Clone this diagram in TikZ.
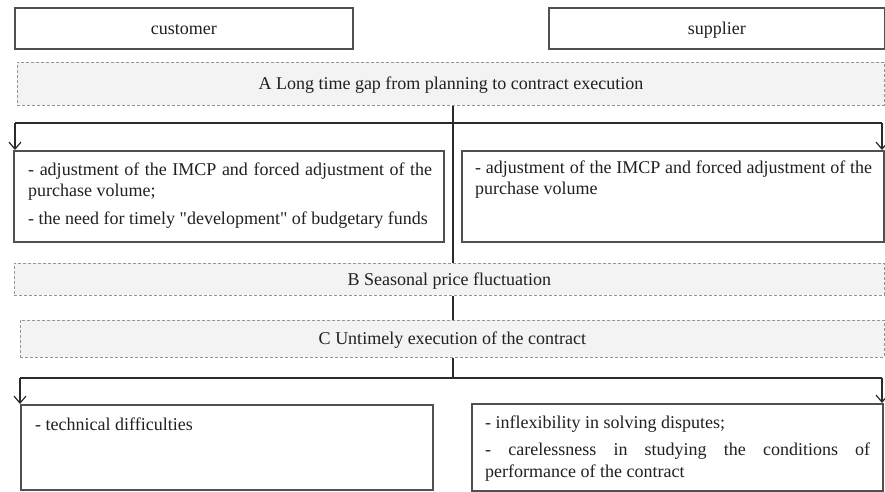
\documentclass[tikz,border=0pt]{standalone}
\usepackage{fontspec}
\setmainfont{Liberation Serif}
\usetikzlibrary{arrows.meta,calc}
\definecolor{boxgray}{HTML}{505050}
\definecolor{dashgray}{HTML}{959595}
\definecolor{bgray}{HTML}{F3F3F3}
\definecolor{txtcol}{HTML}{202020}
\definecolor{linecol}{HTML}{2A2A2A}
\begin{document}
\begin{tikzpicture}[x=1pt,y=-1pt,
  basefont/.style={font=\fontsize{18}{21.5}\selectfont, text=txtcol},
  solidbox/.style={basefont, draw=boxgray, line width=1.5pt, fill=white, inner sep=0pt,
    anchor=north west, text height=12pt, text depth=0pt},
  dashbox/.style={basefont, draw=dashgray, dash pattern=on 3pt off 2pt, line width=0.9pt,
    fill=bgray, inner sep=0pt, anchor=north west, text height=12pt, text depth=0pt},
  itemtext/.style={basefont, anchor=north west, inner sep=0pt, align=justify,
    execute at begin node={\setlength{\parskip}{6pt}\setlength{\parindent}{0pt}\hyphenpenalty=10000\tolerance=10000}},
  conn/.style={draw=linecol, line width=1.2pt},
  arr/.style={conn, -{Straight Barb[length=7pt,width=12pt,line width=1.2pt]}}
]
\useasboundingbox (0,0) rectangle (885,491);

% header boxes
\node[solidbox, minimum width=338pt, minimum height=41pt] (cust) at (14,7) {customer};
\node[solidbox, minimum width=336pt, minimum height=41pt] (supp) at (548,7) {supplier};

% A
\node[dashbox, minimum width=867pt, minimum height=43pt] (A) at (17,62)
  {A Long time gap from planning to contract execution};

% upper boxes
\node[solidbox, minimum width=430pt, minimum height=91pt] (L1) at (13,150) {};
\node[solidbox, minimum width=422pt, minimum height=91pt] (R1) at (461,150) {};
\node[itemtext, text width=404pt] (L1t) at ($(L1.north west)+(15,10)$)
  {\strut - adjustment of the IMCP and forced adjustment of the purchase volume;\par
   \strut - the need for timely \textquotedbl development\textquotedbl{} of budgetary funds};
\node[itemtext, text width=397pt] (R1t) at ($(R1.north west)+(14,8)$)
  {\strut - adjustment of the IMCP and forced adjustment of the purchase volume};

% B and C
\node[dashbox, minimum width=870pt, minimum height=32pt] (B) at (14,263)
  {B Seasonal price fluctuation};
\node[dashbox, minimum width=864pt, minimum height=37pt] (C) at (20,320)
  {C Untimely execution of the contract};

% lower boxes
\node[solidbox, minimum width=412pt, minimum height=85pt] (L2) at (20,404) {};
\node[solidbox, minimum width=411pt, minimum height=87pt] (R2) at (471,403) {};
\node[itemtext, text width=380pt] (L2t) at ($(L2.north west)+(15,11)$)
  {\strut - technical difficulties};
\node[itemtext, text width=385pt] (R2t) at ($(R2.north west)+(14,10)$)
  {\strut - inflexibility in solving disputes;\par
   \strut - carelessness in studying the conditions of\linebreak performance of the contract};

% connectors
\coordinate (j1) at (453,123);
\coordinate (j2) at (453,378);
\coordinate (h1l) at (15,123);
\coordinate (h1r) at (882,123);
\coordinate (h2l) at (20,378);
\coordinate (h2r) at (882,378);

\draw[conn] (A.south -| j1) -- (B.north -| j1);
\draw[conn] (B.south -| j1) -- (C.north -| j1);
\draw[conn] (C.south -| j1) -- (j2);
\draw[conn] (h1l) -- (h1r);
\draw[conn] (h2l) -- (h2r);
\draw[arr] (h1l) -- (h1l |- L1.north);
\draw[arr] (h1r) -- (h1r |- R1.north);
\draw[arr] (h2l) -- (h2l |- L2.north);
\draw[arr] (h2r) -- (h2r |- R2.north);
\end{tikzpicture}
\end{document}
